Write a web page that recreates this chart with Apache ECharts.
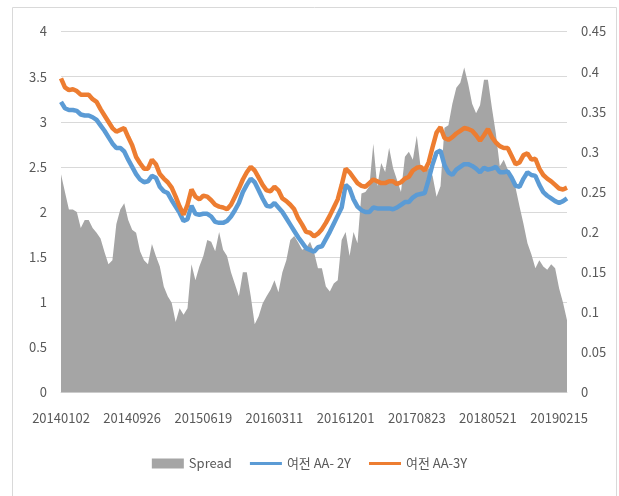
<!DOCTYPE html>
<html>
<head>
<meta charset="utf-8"/>
<title>Spread</title>
<style>
  html, body { margin: 0; padding: 0; background: #fff; }
  #container { width: 619px; height: 496px; }
</style>
</head>
<body>
<div id="container"></div>
<script src="https://cdn.jsdelivr.net/npm/echarts@6/dist/echarts.min.js"></script>
<script type="text/javascript">
// 날짜 (약 2주 간격), 18개마다 라벨 표시
var dates = [
  '20140102','20140116','20140131','20140214','20140303','20140317','20140401','20140415','20140430','20140515',
  '20140529','20140613','20140627','20140714','20140728','20140811','20140826','20140911','20140926','20141013',
  '20141027','20141110','20141124','20141208','20141222','20150107','20150121','20150204','20150223','20150309',
  '20150323','20150406','20150420','20150504','20150519','20150603','20150619','20150703','20150717','20150731',
  '20150817','20150831','20150914','20151001','20151016','20151030','20151113','20151127','20151211','20151228',
  '20160112','20160126','20160212','20160226','20160311','20160325','20160408','20160422','20160509','20160523',
  '20160608','20160622','20160706','20160720','20160803','20160818','20160901','20160920','20161005','20161019',
  '20161102','20161116','20161201','20161215','20161229','20170113','20170127','20170213','20170227','20170314',
  '20170328','20170411','20170425','20170512','20170526','20170612','20170626','20170710','20170724','20170808',
  '20170823','20170906','20170920','20171011','20171025','20171108','20171122','20171206','20171220','20180105',
  '20180119','20180202','20180222','20180308','20180322','20180405','20180419','20180504','20180521','20180604',
  '20180619','20180703','20180717','20180731','20180814','20180829','20180912','20181001','20181016','20181030',
  '20181113','20181127','20181211','20181226','20190110','20190128','20190215','20190301','20190315'
];

// 여전 AA- 2Y (좌축)
var aa2y = [
  3.22,3.15,3.13,3.13,3.12,3.08,3.07,3.07,3.05,3.02,
  2.96,2.90,2.83,2.76,2.71,2.71,2.67,2.58,2.50,2.42,
  2.36,2.33,2.34,2.40,2.38,2.28,2.23,2.21,2.13,2.06,
  1.99,1.90,1.92,2.07,1.98,1.97,1.98,1.98,1.95,1.89,
  1.88,1.88,1.90,1.95,2.02,2.10,2.22,2.30,2.37,2.33,
  2.24,2.15,2.07,2.06,2.10,2.05,2.00,1.93,1.86,1.79,
  1.72,1.66,1.60,1.58,1.56,1.61,1.62,1.70,1.78,1.87,
  1.96,2.05,2.30,2.26,2.14,2.06,2.02,2.00,2.00,2.05,
  2.04,2.04,2.04,2.04,2.03,2.05,2.08,2.11,2.11,2.16,
  2.19,2.20,2.21,2.36,2.53,2.66,2.68,2.52,2.44,2.41,
  2.47,2.50,2.53,2.53,2.51,2.48,2.44,2.49,2.47,2.48,
  2.50,2.44,2.44,2.45,2.38,2.29,2.28,2.37,2.44,2.41,
  2.40,2.30,2.22,2.18,2.15,2.12,2.10,2.12,2.15
];

// 여전 AA-3Y (좌축)
var aa3y = [
  3.48,3.38,3.35,3.36,3.34,3.30,3.30,3.30,3.25,3.22,
  3.14,3.07,3.00,2.93,2.89,2.91,2.93,2.83,2.74,2.61,
  2.54,2.48,2.48,2.58,2.53,2.42,2.37,2.33,2.27,2.17,
  2.06,1.97,2.08,2.25,2.17,2.14,2.18,2.17,2.13,2.08,
  2.06,2.05,2.03,2.08,2.17,2.26,2.36,2.44,2.50,2.46,
  2.38,2.30,2.24,2.23,2.28,2.24,2.15,2.12,2.08,2.03,
  1.93,1.86,1.78,1.77,1.73,1.76,1.81,1.88,1.96,2.05,
  2.14,2.30,2.48,2.44,2.38,2.32,2.29,2.28,2.32,2.36,
  2.34,2.32,2.32,2.34,2.34,2.31,2.33,2.37,2.39,2.46,
  2.49,2.50,2.46,2.55,2.72,2.88,2.94,2.82,2.80,2.83,
  2.87,2.90,2.93,2.92,2.90,2.85,2.79,2.85,2.92,2.83,
  2.77,2.73,2.71,2.71,2.62,2.53,2.55,2.63,2.65,2.58,
  2.59,2.48,2.41,2.37,2.34,2.30,2.26,2.25,2.27
];

// Spread (우축)
var spread = [
  0.272,0.250,0.228,0.228,0.225,0.205,0.215,0.215,0.205,0.199,
  0.192,0.175,0.160,0.165,0.210,0.228,0.236,0.215,0.203,0.199,
  0.176,0.165,0.160,0.185,0.170,0.157,0.132,0.120,0.112,0.088,
  0.105,0.097,0.105,0.160,0.140,0.157,0.170,0.190,0.188,0.176,
  0.200,0.178,0.170,0.150,0.135,0.120,0.150,0.150,0.120,0.085,
  0.095,0.111,0.120,0.128,0.140,0.125,0.150,0.165,0.190,0.195,
  0.187,0.178,0.180,0.188,0.175,0.155,0.155,0.132,0.126,0.136,
  0.140,0.190,0.200,0.170,0.200,0.186,0.248,0.250,0.257,0.310,
  0.257,0.286,0.275,0.305,0.280,0.265,0.250,0.294,0.300,0.290,
  0.320,0.280,0.275,0.280,0.270,0.244,0.257,0.330,0.333,0.360,
  0.380,0.386,0.405,0.385,0.360,0.348,0.358,0.390,0.390,0.355,
  0.323,0.282,0.290,0.278,0.265,0.255,0.232,0.210,0.186,0.172,
  0.155,0.165,0.157,0.153,0.160,0.155,0.130,0.112,0.090
];

var textColor = '#595959';
var gridColor = '#d9d9d9';
var lineIcon = 'path://M0,0 L32,0 L32,3 L0,3 Z';

var myChart = echarts.init(document.getElementById('container'));

var option = {
    animation: false,
    graphic: [{
        type: 'rect',
        shape: { x: 12.5, y: 7.5, width: 604, height: 500 },
        style: { fill: 'none', stroke: gridColor, lineWidth: 1 },
        silent: true
    }],
    grid: {
        left: 61,
        right: 52,
        top: 31.5,
        bottom: 103.5
    },
    legend: {
        bottom: 21,
        left: 'center',
        itemWidth: 32,
        itemHeight: 10,
        itemGap: 18,
        textStyle: { color: textColor, fontSize: 13, fontFamily: 'Noto Sans CJK KR' },
        data: [
            { name: 'Spread', icon: 'rect' },
            { name: '여전 AA- 2Y', icon: lineIcon },
            { name: '여전 AA-3Y', icon: lineIcon }
        ]
    },
    xAxis: {
        type: 'category',
        data: dates,
        boundaryGap: false,
        axisLine: { lineStyle: { color: gridColor } },
        axisTick: { show: false },
        axisLabel: {
            interval: 17,
            margin: 19,
            color: textColor,
            fontSize: 13,
            fontFamily: 'Noto Sans CJK KR'
        }
    },
    yAxis: [{
        type: 'value',
        min: 0,
        max: 4,
        interval: 0.5,
        axisLine: { show: false },
        axisTick: { show: false },
        axisLabel: { color: textColor, fontSize: 13, margin: 14, fontFamily: 'Noto Sans CJK KR' },
        splitLine: { lineStyle: { color: gridColor, width: 1 } }
    }, {
        type: 'value',
        min: 0,
        max: 0.45,
        interval: 0.05,
        axisLine: { show: false },
        axisTick: { show: false },
        axisLabel: { color: textColor, fontSize: 13, margin: 14, fontFamily: 'Noto Sans CJK KR' },
        splitLine: { show: false }
    }],
    series: [{
        name: 'Spread',
        type: 'line',
        yAxisIndex: 1,
        data: spread,
        showSymbol: false,
        color: '#a5a5a5',
        lineStyle: { width: 0 },
        areaStyle: { color: '#a5a5a5', opacity: 1 },
        z: 1
    }, {
        name: '여전 AA- 2Y',
        type: 'line',
        data: aa2y,
        showSymbol: false,
        color: '#5b9bd5',
        lineStyle: { width: 4.5, color: '#5b9bd5' },
        z: 3
    }, {
        name: '여전 AA-3Y',
        type: 'line',
        data: aa3y,
        showSymbol: false,
        color: '#ed7d31',
        lineStyle: { width: 4.5, color: '#ed7d31' },
        z: 4
    }]
};

myChart.setOption(option);
window.onresize = myChart.resize;
</script>
</body>
</html>
